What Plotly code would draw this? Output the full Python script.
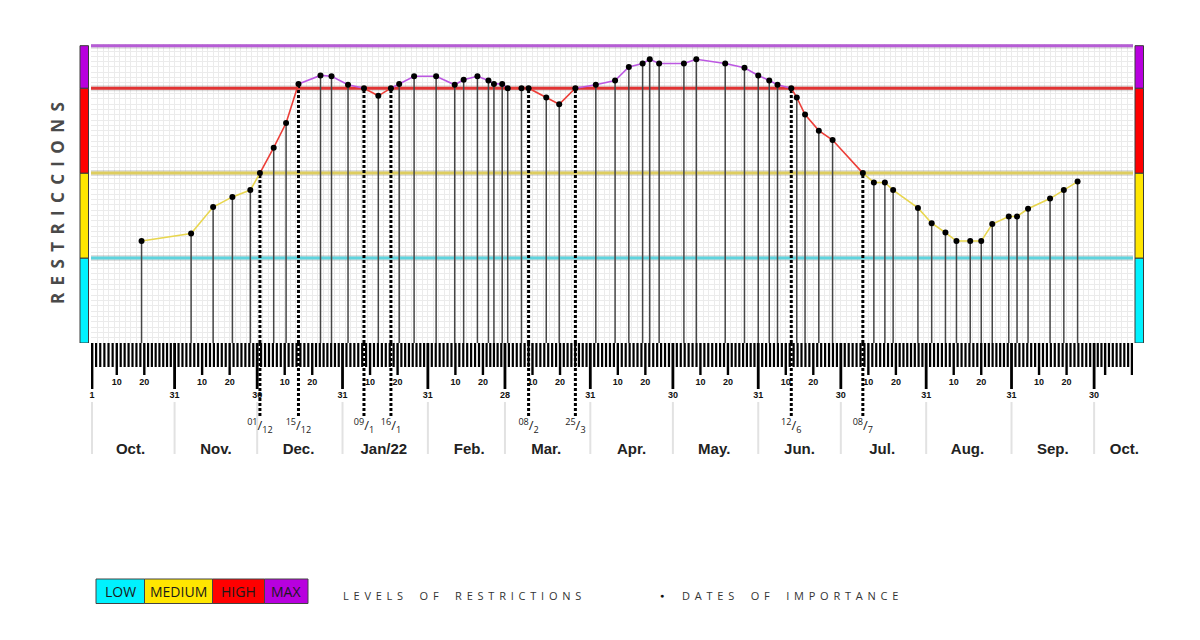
import numpy as np
import pandas as pd
import plotly.graph_objects as go

# ----------------- data -----------------
dates = [
    "2021-10-19", "2021-11-06", "2021-11-14", "2021-11-21", "2021-11-27 12:00", "2021-12-01",
    "2021-12-06", "2021-12-10 12:00", "2021-12-15", "2021-12-23", "2021-12-27", "2022-01-02",
    "2022-01-07 19:00", "2022-01-13", "2022-01-17 14:00", "2022-01-20 14:00", "2022-01-26", "2022-02-03",
    "2022-02-09 18:00", "2022-02-13", "2022-02-18", "2022-02-22", "2022-02-24", "2022-02-27",
    "2022-03-01", "2022-03-06", "2022-03-08 14:00", "2022-03-15", "2022-03-19 17:00", "2022-03-25 14:00",
    "2022-04-02", "2022-04-09", "2022-04-14", "2022-04-19", "2022-04-21 14:00", "2022-04-25",
    "2022-05-04", "2022-05-08 12:00", "2022-05-19", "2022-05-26", "2022-05-31", "2022-06-04",
    "2022-06-07", "2022-06-12", "2022-06-14", "2022-06-17", "2022-06-22", "2022-06-27",
    "2022-07-08", "2022-07-12", "2022-07-16", "2022-07-19", "2022-07-28", "2022-08-02",
    "2022-08-07", "2022-08-11", "2022-08-16", "2022-08-20", "2022-08-24", "2022-08-30",
    "2022-09-02", "2022-09-06", "2022-09-14", "2022-09-19", "2022-09-24",
]
levels = [
    1.20, 1.29, 1.60, 1.72, 1.80, 2.00,
    2.30, 2.59, 3.05, 3.15, 3.14, 3.04,
    3.00, 2.91, 3.00, 3.05, 3.14, 3.14,
    3.04, 3.10, 3.14, 3.09, 3.05, 3.05,
    3.00, 3.00, 3.00, 2.89, 2.81, 3.00,
    3.04, 3.09, 3.25, 3.29, 3.34, 3.29,
    3.29, 3.34, 3.29, 3.24, 3.15, 3.09,
    3.04, 3.00, 2.89, 2.69, 2.50, 2.39,
    2.00, 1.89, 1.89, 1.80, 1.59, 1.41,
    1.30, 1.20, 1.20, 1.20, 1.40, 1.49,
    1.49, 1.58, 1.70, 1.80, 1.90,
]
key_dates = ["2021-12-01", "2021-12-15", "2022-01-07 19:00", "2022-01-17 14:00",
             "2022-03-08 14:00", "2022-03-25 14:00", "2022-06-12", "2022-07-08"]
key_labels = ["01/12", "15/12", "09/1", "16/1", "08/2", "25/3", "12/6", "08/7"]

level_names = ["LOW", "MEDIUM", "HIGH", "MAX"]
level_bounds = [0, 1, 2, 3, 3.5]
month_labels = ["Oct.", "Nov.", "Dec.", "Jan/22", "Feb.", "Mar.", "Apr.", "May.",
                "Jun.", "Jul.", "Aug.", "Sep.", "Oct."]
month_label_dates = ["2021-10-15", "2021-11-15", "2021-12-15", "2022-01-15", "2022-02-15",
                     "2022-03-15", "2022-04-15", "2022-05-15", "2022-06-15", "2022-07-15",
                     "2022-08-15", "2022-09-15", "2022-10-11"]

# ----------------- styles -----------------
OFF = 8                      # page body margin
W, H = 1192, 632
def X(px): return (px - OFF) / W
def Y(py): return 1 - (py - OFF) / H

bar_colors = ["#00f2ff", "#ffe600", "#ff0000", "#b800de"]
band_line_colors = ["rgb(95,212,222)", "rgb(222,205,95)", "rgb(226,52,52)", "rgb(182,92,214)"]
seg_colors = {1: "rgb(232,214,78)", 2: "rgb(236,62,56)", 3: "rgb(188,88,226)"}
FONT = "Open Sans"
RULER_FONT = "Liberation Sans"
GRID = "#ebebeb"

x_range = ["2021-09-30 15:20", "2022-10-14 03:00"]

fig = go.Figure()

# ----------------- level boundary lines -----------------
for i, lv in enumerate(level_bounds[1:]):
    fig.add_trace(go.Scatter(x=x_range, y=[lv, lv], mode="lines",
                             line=dict(color="rgba(90,90,90,0.2)", width=6), hoverinfo="skip"))
    fig.add_trace(go.Scatter(x=x_range, y=[lv, lv], mode="lines",
                             line=dict(color=band_line_colors[i], width=3), hoverinfo="skip"))

# ----------------- stems -----------------
sx, sy, kx, ky = [], [], [], []
for d, v in zip(dates, levels):
    if d in key_dates:
        kx += [d, d, None]; ky += [0, v, None]
    else:
        sx += [d, d, None]; sy += [0, v, None]
fig.add_trace(go.Scatter(x=sx, y=sy, mode="lines", line=dict(color="#454545", width=1.5),
                         hoverinfo="skip"))
fig.add_trace(go.Scatter(x=kx, y=ky, mode="lines",
                         line=dict(color="#000", width=3, dash="3px,2px"), hoverinfo="skip"))

# ----------------- coloured level line -----------------
def seg_level(a, b):
    m = (a + b) / 2
    return 3 if m > 3 else (2 if m > 2 else 1)

runs = []
start = 0
cur = seg_level(levels[0], levels[1])
for i in range(1, len(levels) - 1):
    c = seg_level(levels[i], levels[i + 1])
    if c != cur:
        runs.append((start, i, cur))
        start, cur = i, c
runs.append((start, len(levels) - 1, cur))
for a, b, c in runs:
    fig.add_trace(go.Scatter(x=dates[a:b + 1], y=levels[a:b + 1], mode="lines",
                             line=dict(color=seg_colors[c], width=1.6), hoverinfo="skip"))

fig.add_trace(go.Scatter(x=dates, y=levels, mode="markers",
                         marker=dict(color="#000", size=6), hoverinfo="skip"))

# ----------------- ruler (x2, y2) -----------------
start_day = pd.Timestamp("2021-10-01")
anchors = [(start_day, "long", "1")]
m = pd.Timestamp("2021-10-01")
for _ in range(12):
    anchors.append((m + pd.Timedelta(days=9), "mid", "10"))
    anchors.append((m + pd.Timedelta(days=19), "mid", "20"))
    me = m + pd.offsets.MonthEnd(0)
    anchors.append((me, "long", str(me.day)))
    m = me + pd.Timedelta(days=1)
anchors.append((pd.Timestamp("2022-10-04"), "mid", ""))
anchors.append((pd.Timestamp("2022-10-13 18:00"), "mid", ""))

def fmt(t):
    return pd.Timestamp(t).strftime("%Y-%m-%d %H:%M:%S")

short_ticks = []
for (a, _, _), (b, _, _) in zip(anchors[:-1], anchors[1:]):
    days = (b - a).total_seconds() / 86400
    n = max(1, int(round(days / 1.4)))
    for v in np.linspace(a.value, b.value, n + 1)[1:-1]:
        short_ticks.append(pd.Timestamp(int(v)))

def tick_trace(ts, length, width):
    xs, ys = [], []
    for t in ts:
        xs += [fmt(t), fmt(t), None]; ys += [0, length, None]
    return go.Scatter(x=xs, y=ys, xaxis="x2", yaxis="y2", mode="lines",
                      line=dict(color="#000", width=width), hoverinfo="skip")

fig.add_trace(tick_trace(short_ticks, 24, 2.2))
fig.add_trace(tick_trace([a for a, k, _ in anchors if k == "mid"], 32, 2.4))
fig.add_trace(tick_trace([a for a, k, _ in anchors if k == "long"], 46, 2.8))

# month separators
sepx, sepy = [], []
for a, k, _ in anchors:
    if k == "long":
        sepx += [fmt(a), fmt(a), None]; sepy += [59, 111, None]
fig.add_trace(go.Scatter(x=sepx, y=sepy, xaxis="x2", yaxis="y2", mode="lines",
                         line=dict(color="#e2e2e2", width=2), hoverinfo="skip"))

# key-date dotted continuation
kx2, ky2 = [], []
for d in key_dates:
    kx2 += [d, d, None]; ky2 += [0, 75, None]
fig.add_trace(go.Scatter(x=kx2, y=ky2, xaxis="x2", yaxis="y2", mode="lines",
                         line=dict(color="#000", width=3, dash="3px,2px"), hoverinfo="skip"))

mids = [(a, l) for a, k, l in anchors if k == "mid" and l]
fig.add_trace(go.Scatter(x=[fmt(a) for a, _ in mids], y=[40] * len(mids), xaxis="x2", yaxis="y2",
                         mode="text", text=[l for _, l in mids], cliponaxis=False,
                         textfont=dict(family=RULER_FONT, size=9, color="#111", weight="bold"),
                         hoverinfo="skip"))
longs = [(a, l) for a, k, l in anchors if k == "long"]
fig.add_trace(go.Scatter(x=[fmt(a) for a, _ in longs], y=[53] * len(longs), xaxis="x2", yaxis="y2",
                         mode="text", text=[l for _, l in longs], cliponaxis=False,
                         textfont=dict(family=RULER_FONT, size=9, color="#111", weight="bold"),
                         hoverinfo="skip"))
klab = []
for lab in key_labels:
    a, b = lab.split("/")
    klab.append(f"<sup>{a}</sup>/<sub>{b}</sub>")
fig.add_trace(go.Scatter(x=key_dates, y=[84] * len(key_dates), xaxis="x2", yaxis="y2",
                         mode="text", text=klab, cliponaxis=False,
                         textfont=dict(family=FONT, size=13, color="#222"), hoverinfo="skip"))
fig.add_trace(go.Scatter(x=month_label_dates, y=[107] * len(month_labels), xaxis="x2", yaxis="y2",
                         mode="text", text=month_labels, cliponaxis=False,
                         textfont=dict(family=RULER_FONT, size=15, color="#222", weight="bold"),
                         hoverinfo="skip"))

# ----------------- shapes -----------------
shapes = []
for x0, x1 in [(80, 88.5), (1135, 1143.5)]:
    for i in range(4):
        shapes.append(dict(type="rect", xref="paper", x0=X(x0), x1=X(x1), yref="y",
                           y0=level_bounds[i], y1=level_bounds[i + 1],
                           fillcolor=bar_colors[i], line=dict(color="#3a3a3a", width=1)))

# legend boxes
box_edges = [96, 144.5, 212.5, 264.5, 308]
annotations = []
for i, name in enumerate(level_names):
    shapes.append(dict(type="rect", xref="paper", yref="paper",
                       x0=X(box_edges[i]), x1=X(box_edges[i + 1]), y0=Y(603.5), y1=Y(579),
                       fillcolor=bar_colors[i], line=dict(color="#444", width=1)))
    annotations.append(dict(x=X((box_edges[i] + box_edges[i + 1]) / 2), y=Y(591.5),
                            xref="paper", yref="paper", text=name, showarrow=False,
                            xanchor="center", yanchor="middle",
                            font=dict(family=FONT, size=14, color="#1a1a1a")))

def spaced(s, gap="\u2004\u200a", wgap="\u2003\u2002"):
    return wgap.join(gap.join(w) for w in s.split(" "))

annotations.append(dict(x=X(462), y=Y(595), xref="paper", yref="paper",
                        xanchor="center", yanchor="middle",
                        text=spaced("LEVELS OF RESTRICTIONS"), showarrow=False,
                        font=dict(family=FONT, size=11, color="#333")))
annotations.append(dict(x=X(662), y=Y(595), xref="paper", yref="paper",
                        xanchor="center", yanchor="middle", text="\u25CF", showarrow=False,
                        font=dict(family=FONT, size=7, color="#111")))
annotations.append(dict(x=X(790), y=Y(595), xref="paper", yref="paper",
                        xanchor="center", yanchor="middle",
                        text=spaced("DATES OF IMPORTANCE"), showarrow=False,
                        font=dict(family=FONT, size=11, color="#333")))
annotations.append(dict(x=X(57), y=Y(203), xref="paper", yref="paper", textangle=-90,
                        xanchor="center", yanchor="middle",
                        text=spaced("RESTRICCIONS"), showarrow=False,
                        font=dict(family=FONT, size=17, color="#4a4a4a", weight="bold")))

fig.update_layout(
    width=W, height=H, margin=dict(l=0, r=0, t=0, b=0),
    paper_bgcolor="white", plot_bgcolor="white", showlegend=False,
    xaxis=dict(domain=[X(91), X(1133)], range=x_range, type="date", anchor="y",
               showgrid=True, gridcolor=GRID, gridwidth=1,
               tick0="2021-10-01", dtick=2 * 86400000,
               showticklabels=False, ticks="", zeroline=False, showline=False),
    yaxis=dict(domain=[Y(343), Y(44)], range=[0, 3.52], anchor="x",
               showgrid=True, gridcolor=GRID, gridwidth=1, tick0=0, dtick=0.0625,
               showticklabels=False, ticks="", zeroline=False, showline=False),
    xaxis2=dict(domain=[X(91), X(1133)], range=x_range, type="date", anchor="y2",
                visible=False, showgrid=False),
    yaxis2=dict(domain=[Y(470), Y(343)], range=[127, 0], anchor="x2", visible=False,
                showgrid=False),
    shapes=shapes, annotations=annotations,
)

fig.write_html("out.html")
